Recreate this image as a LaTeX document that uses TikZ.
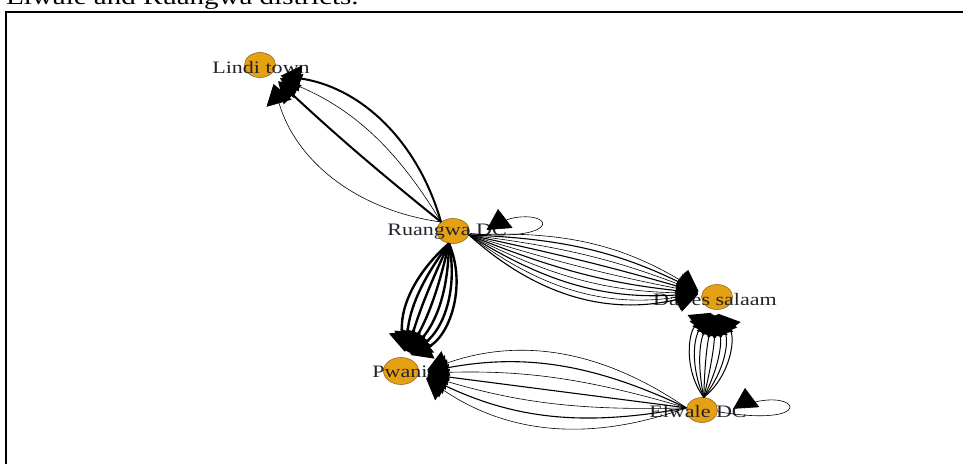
\documentclass[tikz,border=0pt]{standalone}
\usepackage{fontspec}
\setmainfont{Liberation Serif}
\usepackage{graphicx}
\usetikzlibrary{arrows.meta,shapes.geometric}
\definecolor{vfill}{RGB}{230,160,20}
\definecolor{vline}{RGB}{150,105,30}
\definecolor{lbl}{RGB}{35,35,45}
\tikzset{
  vert/.style={ellipse,draw=vline,fill=vfill,minimum width=31pt,minimum height=25pt,inner sep=0pt,line width=0.6pt},
  lab/.style={text=lbl,font=\fontsize{17.5}{17.5}\selectfont,inner sep=0pt},
  arr/.style={-{Triangle[length=20pt,width=26pt]}},
  thn/.style={line width=0.6pt},
  mid/.style={line width=1.1pt},
  thk/.style={line width=2pt},
  hvy/.style={line width=2.4pt},
  frame/.style={line width=2pt,draw=black}
}
\begin{document}
\begin{tikzpicture}[x=1pt,y=1pt]
\useasboundingbox (0,0) rectangle (963,-463);
\clip (0,0) rectangle (963,-463);
\fill[white] (0,0) rectangle (963,-463);
% caption fragment and frame
\node[anchor=base west,inner sep=0pt,font=\fontsize{23}{23}\selectfont] (cap) at (6,-5) {\scalebox{1.26}[1]{Elwale and Ruangwa districts.}};
\draw[frame] (6,-470) -- (6,-11.5) -- (970,-11.5);
% vertices
\node[vert] (L) at (260,-65) {};
\node[vert,minimum width=33pt] (R) at (453,-231) {};
\node[vert] (D) at (717,-297) {};
\node[vert,minimum width=35pt,minimum height=27pt] (P) at (401,-371) {};
\node[vert] (E) at (702,-410) {};
% labels
\node[lab] (Lt) at (261,-68) {\scalebox{1.26}[1]{Lindi town}};
\node[lab] (Rt) at (447,-232) {\scalebox{1.26}[1]{Ruangwa DC}};
\node[lab] (Dt) at (715,-300) {\scalebox{1.26}[1]{Dar es salaam}};
\node[lab] (Pt) at (400,-372) {\scalebox{1.26}[1]{Pwani}};
\node[lab] (Et) at (698,-412) {\scalebox{1.26}[1]{Elwale DC}};
% Ruangwa -> Lindi
\begin{scope}[shorten >=10pt]
\draw[arr,thn] (R.143) to[bend left=33] (L.-41);
\draw[arr,thk] (R.143) to[bend left=2] (L.-41);
\draw[arr,thn] (R.143) to[bend right=18] (L.-41);
\draw[arr,thk] (R.143) to[bend right=33] (L.-41);
\end{scope}
% Ruangwa -> Dar es salaam
\foreach \a/\w in {17/thn,12/mid,7/thn,2/mid,-3/thn,-8/mid,-13/thn,-18/mid,-23/thn,-28/mid}
  \draw[arr,\w,shorten >=4pt] (R.-14) to[bend left=\a] (D.166);
% Ruangwa -> Pwani
\foreach \a in {44,32,20,8,-4,-16,-28}
  \draw[arr,hvy,shorten >=6pt] (R.252) to[bend left=\a] (P.72);
% Elwale -> Pwani
\foreach \a/\w in {27/thn,18/mid,9/thn,0/mid,-9/thn,-18/mid,-27/thn}
  \draw[arr,\w,shorten >=9pt] (E.172) to[bend left=\a] (P.-7);
% Elwale -> Dar es salaam
\foreach \a in {44,31,19,6,-6,-19,-31,-44}
  \draw[arr,line width=1pt,shorten >=5pt] (E.82) to[bend left=\a] (D.262);
% self loops
\coordinate (Rl) at (498,-209);
\draw[arr,thn] (R.-8) .. controls (556,-242) and (556,-214) .. (520,-217) .. controls (508,-218) and (499,-222) .. (Rl);
\coordinate (El) at (745,-388);
\draw[arr,thn] (E.-6) .. controls (803,-426) and (803,-398) .. (768,-400) .. controls (755,-401) and (746,-404) .. (El);
\end{tikzpicture}
\end{document}
